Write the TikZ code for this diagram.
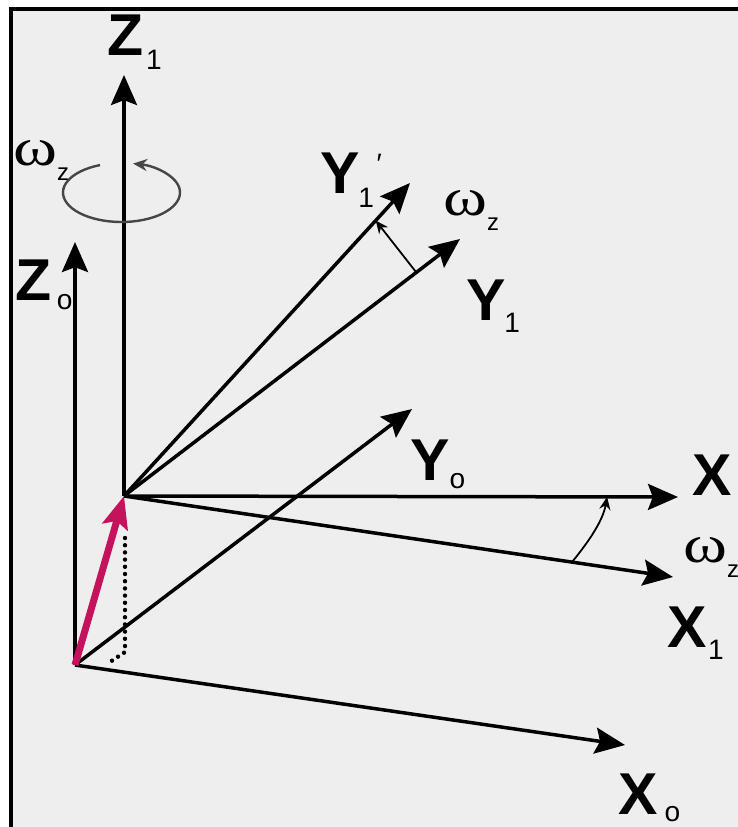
\documentclass[tikz,border=0pt]{standalone}
\usepackage{fontspec}
\setmainfont{Liberation Sans}
\newfontfamily\grkfont{Liberation Serif}
\usetikzlibrary{arrows.meta,calc}
\definecolor{cPanel}{RGB}{238,238,238}
\definecolor{cShift}{RGB}{196,18,92}
\definecolor{cSpin}{RGB}{70,70,70}
% axis letter + lowered index: {letter}{index}{kern}{raise}
\newcommand{\axlbl}[4]{{\fontsize{42}{42}\selectfont\bfseries #1}\kern#3\raisebox{#4}{\fontsize{20}{20}\selectfont #2}}
\newcommand{\omz}{\scalebox{1.25}[1]{\grkfont\fontsize{38}{38}\selectfont ω}\raisebox{-11pt}{\fontsize{17}{17}\selectfont z}}

\begin{document}
\begin{tikzpicture}[x=0.25mm, y=-0.25mm,
  axis/.style={line width=0.875mm, -{Stealth[length=7.5mm, width=6.5mm, inset=1.2mm]}},
  turn/.style={line width=0.45mm, -{Stealth[length=3.2mm, width=2.8mm]}},
  lbl/.style={inner sep=0pt, anchor=base west}]
% coordinates in pixels of the scan, y pointing down
\useasboundingbox (0,0) rectangle (738,827);
\fill[cPanel] (11,9) rectangle (760,850);
\draw[line width=0.8mm] (11,850) -- (11,9) -- (760,9);
% origins and axis tips
\coordinate (O0) at (75,665);
\coordinate (O1) at (124,496);
\coordinate (Z0) at (75,242);
\coordinate (X0) at (625,745);
\coordinate (Y0) at (412,409);
\coordinate (Z1) at (124,75);
\coordinate (X1) at (673,577);
\coordinate (Y1) at (460,239);
\coordinate (X1p) at (678,497);
\coordinate (Y1p) at (410,183);
% frame 0
\draw[axis] (O0) -- (Z0);
\draw[axis] (O0) -- (Y0);
\draw[axis] (O0) -- (X0);
% frame 1
\draw[axis] (O1) -- (Z1);
\draw[axis] (O1) -- (Y1p);
\draw[axis] (O1) -- (Y1);
\draw[axis] (O1) -- (X1p);
\draw[axis] (O1) -- (X1);
% spin about Z1
\coordinate (S) at (121.5,192.5);
\draw[cSpin, line width=0.6mm, -{Stealth[length=3.5mm, width=3mm]}]
  ([shift={(248.5:58.5 and 29.5)}]S) arc[start angle=248.5, end angle=-78.6, x radius=58.5, y radius=29.5];
% offset of the origin
\coordinate (P0) at (125,538);
\coordinate (P1) at (125,652);
\coordinate (P2) at (110,662);
\draw[line width=1.1mm, dash pattern=on 0mm off 1.8mm, line cap=round] (P0) -- (P1) -- (P2);
\draw[cShift, line width=1.75mm, -{Stealth[length=8mm, width=6.5mm, inset=1.5mm]}] (O0) -- (O1);
% rotation angles
\coordinate (tY1) at ($(O1)!0.87!(Y1)$);
\coordinate (tY1p) at ($(O1)!0.88!(Y1p)$);
\coordinate (tX1) at ($(O1)!0.816!(X1)$);
\coordinate (tX1p) at ($(O1)!0.872!(X1p)$);
\draw[turn] (tY1) -- (tY1p);
\draw[turn] (tX1) .. controls +(18,-22) and +(-4,23) .. (tX1p);
% labels
\node[lbl] (lZ1) at (107,55) {\axlbl{Z}{1}{2pt}{-10pt}};
\node[lbl] (lZ0) at (15,300) {\axlbl{Z}{o}{4pt}{-7pt}};
\node[lbl] (lY1p) at (320,193) {\axlbl{Y}{1}{-1pt}{-10pt}\kern2pt\raisebox{14pt}{\fontsize{20}{20}\selectfont ′}};
\node[lbl] (lY1) at (466,320) {\axlbl{Y}{1}{-1pt}{-9pt}};
\node[lbl] (lY0) at (410,480) {\axlbl{Y}{o}{0pt}{-6pt}};
\node[lbl] (lX) at (692,495) {\fontsize{42}{42}\selectfont\bfseries X};
\node[lbl] (lX1) at (667,647) {\axlbl{X}{1}{1pt}{-9pt}};
\node[lbl] (lX0) at (618,814) {\axlbl{X}{o}{5pt}{-5pt}};
\node[lbl] (wZ) at (13,165) {\omz};
\node[lbl] (wY) at (443,215) {\omz};
\node[lbl] (wX) at (683,562) {\omz};
\end{tikzpicture}
\end{document}
